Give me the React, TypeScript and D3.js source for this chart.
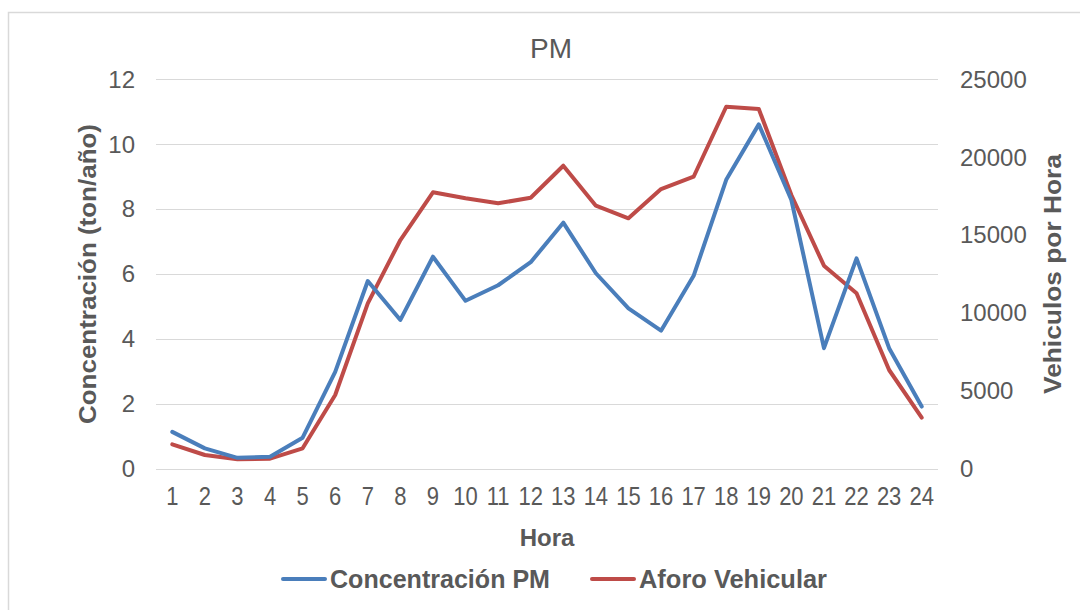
import React, { useEffect, useRef } from 'react';
import * as d3 from 'd3';

const hours = ['1','2','3','4','5','6','7','8','9','10','11','12','13','14','15','16','17','18','19','20','21','22','23','24'];
const concentracionPM = [1.13, 0.62, 0.33, 0.36, 0.95, 2.98, 5.78, 4.58, 6.53, 5.17, 5.65, 6.36, 7.58, 6.02, 4.94, 4.25, 5.94, 8.9, 10.61, 8.28, 3.71, 6.48, 3.71, 1.91];
const aforoVehicular = [1554, 867, 591, 630, 1297, 4721, 10611, 14677, 17740, 17355, 17034, 17394, 19449, 16880, 16070, 17952, 18742, 23238, 23090, 17567, 13026, 11253, 6327, 3263];
const leftTicks = [0, 2, 4, 6, 8, 10, 12];
const rightTicks = [0, 5000, 10000, 15000, 20000, 25000];

const W = 1080;
const H = 610;
const FONT = 'Arial, "Liberation Sans", sans-serif';
const TXT = '#595959';
const GRID = '#d9d9d9';
const BLUE = '#4a7ebb';
const RED = '#be4b48';

const App: React.FC = () => {
  const svgRef = useRef<SVGSVGElement>(null);

  useEffect(() => {
    if (!svgRef.current) return;
    const svg = d3.select(svgRef.current);
    svg.selectAll('*').remove();

    const plot = { left: 156, right: 938, top: 79.3, bottom: 468.5 };

    const x = d3.scaleBand<string>()
      .domain(hours)
      .range([plot.left, plot.right]);
    const yL = d3.scaleLinear().domain([0, 12]).range([plot.bottom, plot.top]);
    const yR = d3.scaleLinear().domain([0, 25000]).range([plot.bottom, plot.top]);
    const cx = (h: string) => (x(h) as number) + x.bandwidth() / 2;

    // frame
    svg.append('rect')
      .attr('x', 8.5).attr('y', 12.5)
      .attr('width', W).attr('height', H)
      .attr('fill', '#fff')
      .attr('stroke', GRID)
      .attr('stroke-width', 1.5);

    // gridlines
    svg.append('g')
      .selectAll('line')
      .data(leftTicks)
      .join('line')
      .attr('x1', plot.left).attr('x2', plot.right)
      .attr('y1', d => Math.round(yL(d)) + 0.5)
      .attr('y2', d => Math.round(yL(d)) + 0.5)
      .attr('stroke', GRID)
      .attr('stroke-width', 1.2);

    // left ticks
    svg.append('g')
      .selectAll('text')
      .data(leftTicks)
      .join('text')
      .attr('x', 135)
      .attr('y', d => yL(d))
      .attr('dy', '0.35em')
      .attr('text-anchor', 'end')
      .attr('font-family', FONT)
      .attr('font-size', 24)
      .attr('fill', TXT)
      .text(d => d);

    // right ticks
    svg.append('g')
      .selectAll('text')
      .data(rightTicks)
      .join('text')
      .attr('x', 960)
      .attr('y', d => yR(d))
      .attr('dy', '0.35em')
      .attr('text-anchor', 'start')
      .attr('font-family', FONT)
      .attr('font-size', 24)
      .attr('fill', TXT)
      .text(d => d);

    // x ticks
    svg.append('g')
      .selectAll('text')
      .data(hours)
      .join('text')
      .attr('transform', d => `translate(${cx(d)},505) scale(0.88,1)`)
      .attr('text-anchor', 'middle')
      .attr('font-family', FONT)
      .attr('font-size', 25)
      .attr('fill', TXT)
      .text(d => d);

    // title
    svg.append('text')
      .attr('x', 551).attr('y', 58)
      .attr('text-anchor', 'middle')
      .attr('font-family', FONT)
      .attr('font-size', 28)
      .attr('fill', TXT)
      .text('PM');

    // x axis title
    svg.append('text')
      .attr('x', 547).attr('y', 546)
      .attr('text-anchor', 'middle')
      .attr('font-family', FONT)
      .attr('font-weight', 'bold')
      .attr('font-size', 24)
      .attr('fill', TXT)
      .text('Hora');

    // left axis title
    svg.append('text')
      .attr('transform', `translate(96,274) rotate(-90)`)
      .attr('text-anchor', 'middle')
      .attr('font-family', FONT)
      .attr('font-weight', 'bold')
      .attr('font-size', 24)
      .attr('textLength', 300)
      .attr('lengthAdjust', 'spacingAndGlyphs')
      .attr('fill', TXT)
      .text('Concentración (ton/año)');

    // right axis title
    svg.append('text')
      .attr('transform', `translate(1061,274) rotate(-90)`)
      .attr('text-anchor', 'middle')
      .attr('font-family', FONT)
      .attr('font-weight', 'bold')
      .attr('font-size', 24)
      .attr('textLength', 240)
      .attr('lengthAdjust', 'spacingAndGlyphs')
      .attr('fill', TXT)
      .text('Vehiculos por Hora');

    // lines
    const lineL = d3.line<number>()
      .x((_, i) => cx(hours[i]))
      .y(d => yL(d));
    const lineR = d3.line<number>()
      .x((_, i) => cx(hours[i]))
      .y(d => yR(d));

    svg.append('path')
      .datum(aforoVehicular)
      .attr('d', lineR)
      .attr('fill', 'none')
      .attr('stroke', RED)
      .attr('stroke-width', 4)
      .attr('stroke-linejoin', 'round')
      .attr('stroke-linecap', 'round');

    svg.append('path')
      .datum(concentracionPM)
      .attr('d', lineL)
      .attr('fill', 'none')
      .attr('stroke', BLUE)
      .attr('stroke-width', 4)
      .attr('stroke-linejoin', 'round')
      .attr('stroke-linecap', 'round');

    // legend
    const legend = [
      { label: 'Concentración PM', color: BLUE, x: 283, len: 220 },
      { label: 'Aforo Vehicular', color: RED, x: 592, len: 188 },
    ];
    const lg = svg.append('g');
    legend.forEach(item => {
      lg.append('line')
        .attr('x1', item.x).attr('x2', item.x + 42)
        .attr('y1', 579).attr('y2', 579)
        .attr('stroke', item.color)
        .attr('stroke-width', 4)
        .attr('stroke-linecap', 'round');
      lg.append('text')
        .attr('x', item.x + 47).attr('y', 579)
        .attr('dy', '0.35em')
        .attr('font-family', FONT)
        .attr('font-weight', 'bold')
        .attr('font-size', 25)
        .attr('textLength', item.len)
        .attr('lengthAdjust', 'spacingAndGlyphs')
        .attr('fill', TXT)
        .text(item.label);
    });
  }, []);

  return (
    <svg
      ref={svgRef}
      width={W}
      height={H}
      style={{ position: 'absolute', left: 0, top: 0, background: '#fff' }}
    />
  );
};

export default App;
